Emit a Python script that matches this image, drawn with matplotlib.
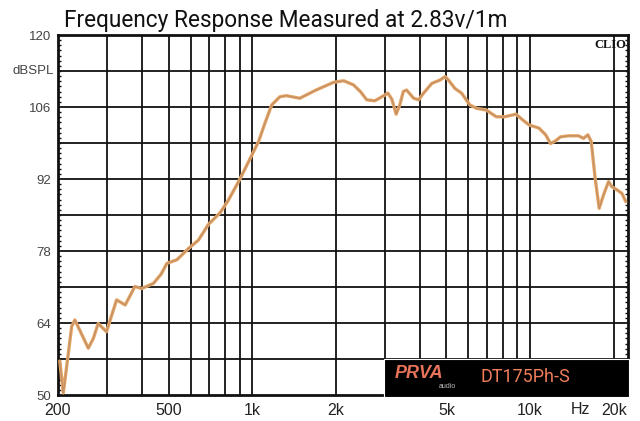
import matplotlib
matplotlib.use("Agg")
import matplotlib.pyplot as plt
from matplotlib.patches import Rectangle
import matplotlib.transforms as mtransforms

# ---- data ----
freq = [203, 209, 216, 224, 230, 240, 257, 268, 279, 299, 312, 325, 349, 365, 378, 400,
        441, 470, 493, 536, 590, 640, 694, 768, 821, 903, 998, 1054, 1110, 1175, 1258,
        1327, 1483, 1697, 1963, 2133, 2314, 2450, 2582, 2760, 2995, 3077, 3180, 3295,
        3400, 3496, 3592, 3809, 3968, 4136, 4430, 4744, 4943, 5079, 5364, 5665, 6067,
        6408, 6958, 7557, 8094, 8895, 9393, 9920, 10760, 11370, 11840, 12340, 12860,
        13770, 14920, 15570, 16130, 16590, 17140, 17720, 18370, 19150, 19690, 20520,
        21390, 22090]
spl = [56.6, 50.4, 56.5, 63.3, 64.6, 62.5, 59.1, 61.0, 63.9, 62.3, 65.5, 68.5, 67.5,
       69.5, 71.1, 70.7, 71.7, 73.5, 75.6, 76.3, 78.5, 80.1, 83.1, 85.5, 87.9, 92.0,
       96.7, 99.3, 102.8, 106.4, 108.0, 108.2, 107.7, 109.3, 110.8, 111.1, 110.3, 109.0,
       107.4, 107.2, 108.3, 108.7, 107.5, 104.6, 106.5, 109.0, 109.3, 107.7, 107.4,
       108.7, 110.6, 111.25, 111.9, 111.25, 109.6, 108.7, 106.4, 105.75, 105.4, 104.1,
       104.1, 104.6, 103.5, 102.5, 101.9, 100.6, 98.9, 99.4, 100.2, 100.4, 100.4, 99.9,
       100.6, 99.3, 92.1, 86.3, 88.9, 91.5, 90.5, 89.9, 89.2, 87.6]

x_label_pos = [200, 500, 1000, 2000, 5000, 10000, 20000]
x_label_txt = ["200", "500", "1k", "2k", "5k", "10k", "20k"]
x_grid = [300, 400, 500, 600, 700, 800, 900, 1000, 2000, 3000, 4000, 5000,
          6000, 7000, 8000, 9000, 10000, 20000]
y_label_pos = [50, 64, 78, 92, 106, 120]
y_grid = [57, 64, 71, 78, 85, 92, 99, 106, 113]

title = "Frequency Response Measured at 2.83v/1m"
model = "DT175Ph-S"

# ---- figure ----
fig = plt.figure(figsize=(6.4, 4.21), dpi=100)
ax = fig.add_axes([58/640, 1-395/421, 570/640, 360/421])
ax.set_xscale("log")
ax.set_xlim(200, 22500)
ax.set_ylim(50, 120)

for g in x_grid:
    ax.axvline(g, color="#111111", lw=1.3, zorder=1)
for g in y_grid:
    ax.axhline(g, color="#111111", lw=1.3, zorder=1)

ax.plot(freq, spl, color="#e8a664", lw=2.4, zorder=3, solid_capstyle="round",
        solid_joinstyle="round")
ax.plot(freq, spl, color="#c09068", lw=0.9, zorder=4, solid_joinstyle="round")

for s in ax.spines.values():
    s.set_linewidth(2)
    s.set_color("#111111")

ax.set_xticks(x_label_pos)
ax.set_xticklabels(x_label_txt, fontsize=11.5, color="#222222", family="Liberation Sans")
ax.xaxis.set_minor_locator(matplotlib.ticker.NullLocator())
ax.tick_params(axis="x", length=0, pad=6)

ax.set_yticks(y_label_pos)
ax.set_yticklabels([str(v) for v in y_label_pos], fontsize=9.5, color="#444444",
                   family="Liberation Sans")
ax.set_yticks(list(range(50, 121)), minor=True)
ax.tick_params(axis="y", which="major", length=0, pad=5)
ax.tick_params(axis="y", which="minor", length=2, width=1, direction="in",
               left=True, right=True, color="#111111")

trans = mtransforms.blended_transform_factory(ax.transData, ax.transAxes)
ax.text(15200, -0.04, "Hz", transform=trans, ha="center", va="center",
        fontsize=11.5, color="#222222", family="Liberation Sans")
trans_y = mtransforms.blended_transform_factory(ax.transAxes, ax.transData)
ax.text(-0.008, 113, "dBSPL", transform=trans_y, ha="right", va="center",
        fontsize=9.5, color="#444444", family="Liberation Sans")

ax.text(0.997, 0.99, "CLIO", transform=ax.transAxes, ha="right", va="top",
        fontsize=9, fontweight="bold", family="Liberation Serif", color="#111111")

fig.text(64/640, 1-20/421, title, ha="left", va="center", fontsize=16.3,
         family=["Roboto", "DejaVu Sans"], color="#111111")

# brand box
fig.add_artist(Rectangle((384/640, 1-397/421), 245/640, 38/421,
                         transform=fig.transFigure, facecolor="black",
                         edgecolor="white", lw=0.8, zorder=10))
fig.text(395/640, 1-373/421, "PRVA", ha="left", va="center", fontsize=13,
         fontweight="bold", style="italic", color="#e7745a",
         family="Liberation Sans", zorder=11)
fig.text(447/640, 1-386/421, "audio", ha="center", va="center", fontsize=5,
         color="#bbbbbb", family="Liberation Sans", zorder=11)
fig.text(480/640, 1-377/421, model, ha="left", va="center", fontsize=13,
         color="#f07e5a", family=["Roboto"], zorder=11)

fig.savefig("out.png", dpi=100)
